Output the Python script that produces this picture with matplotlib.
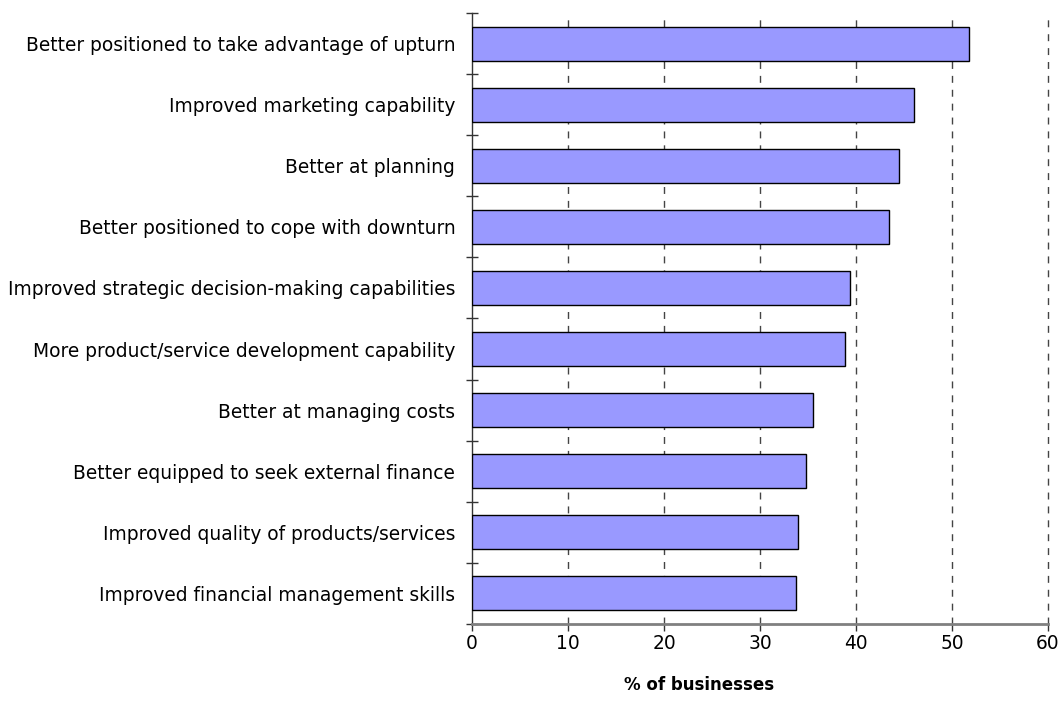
import matplotlib.pyplot as plt
import numpy as np

plt.rcParams['font.family'] = ['DejaVu Sans']

# survey results, top bar first
benefits = [
    "Better positioned to take advantage of upturn",
    "Improved marketing capability",
    "Better at planning",
    "Better positioned to cope with downturn",
    "Improved strategic decision-making capabilities",
    "More product/service development capability",
    "Better at managing costs",
    "Better equipped to seek external finance",
    "Improved quality of products/services",
    "Improved financial management skills",
]
pct_businesses = [51.8, 46.0, 44.5, 43.4, 39.4, 38.9, 35.5, 34.8, 34.0, 33.8]
x_ticks = [0, 10, 20, 30, 40, 50, 60]

fig = plt.figure(figsize=(10.61, 7.03), dpi=100)
ax = fig.add_axes([0.4449, 0.1124, 0.5428, 0.8691])

y = np.arange(len(benefits))
ax.barh(y, pct_businesses, height=0.556, color='#9999FF',
        edgecolor='black', linewidth=1.0, zorder=3)

ax.set_xlim(0, 60)
ax.set_ylim(len(benefits) - 0.5, -0.5)

# dashed vertical grid
for v in x_ticks[1:]:
    ax.axvline(v, color='#444444', linewidth=1.0, dashes=(5, 5),
               zorder=1, clip_on=False)

ax.set_xticks(x_ticks)
ax.set_yticks(y)
ax.set_yticklabels(benefits, fontsize=13.4)
ax.set_yticks(np.arange(len(benefits) + 1) - 0.5, minor=True)
ax.tick_params(axis='y', which='major', length=0, pad=12)
ax.tick_params(axis='y', which='minor', direction='inout', length=9,
               width=1, color='#333333')
ax.tick_params(axis='x', which='major', direction='out', length=5,
               width=1, color='#333333', labelsize=13.4, pad=2)

for side in ['top', 'right']:
    ax.spines[side].set_visible(False)
ax.spines['left'].set_color('#333333')
ax.spines['left'].set_linewidth(1.0)
ax.spines['bottom'].set_color('#808080')
ax.spines['bottom'].set_linewidth(2.0)

ax.set_xlabel('% of businesses', fontsize=12, fontweight='bold')
ax.xaxis.set_label_coords((699 - 472) / 576, -0.085)

fig.savefig('out.png', dpi=100)
